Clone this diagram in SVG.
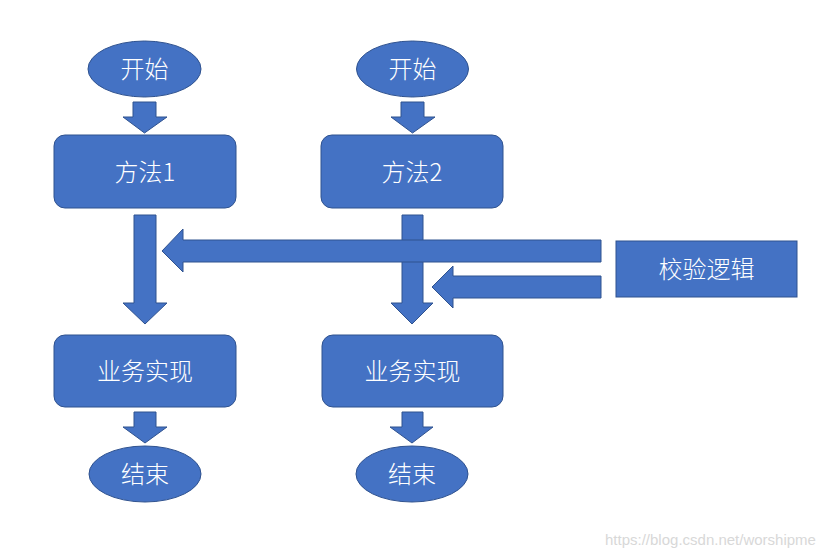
<svg xmlns="http://www.w3.org/2000/svg" width="837" height="557" viewBox="0 0 837 557">
<style>
.s{fill:#4472C4;stroke:#2F528F;stroke-width:1}
.t{fill:#fff;font-family:"Noto Sans CJK SC","Liberation Sans",sans-serif;font-size:24px;font-weight:300;text-anchor:middle;dominant-baseline:central}
.w{fill:#d8d8d8;font-family:"Liberation Sans",Arial,sans-serif;font-size:15px}
</style>
<rect width="837" height="557" fill="#fff"/>
<g id="connectors">
<path class="s" d="M133,102 H156 V117 H167 L144.5,133 L123,117 H133 Z"/>
<path class="s" d="M401,102 H424 V117 H435 L412.5,133 L391,117 H401 Z"/>
<path class="s" d="M134,215 H156 V303 H167 L145,324 L123,303 H134 Z"/>
<path class="s" d="M402,215 H423 V303 H433 L412,324 L391,303 H402 Z"/>
<path class="s" d="M601,240 V262 H183 V272 L162,251 L183,229 V240 Z"/>
<path class="s" d="M601,276 V298 H453 V308 L432,287 L453,266 V276 Z"/>
<path class="s" d="M134,412 H156 V427 H167 L145,443 L123,427 H134 Z"/>
<path class="s" d="M402,412 H423 V427 H433 L412,443 L390,427 H402 Z"/>
</g>
<g id="start1"><ellipse class="s" cx="144.5" cy="69" rx="56.5" ry="28"/><text class="t" x="144.5" y="67">开始</text></g>
<g id="start2"><ellipse class="s" cx="412.5" cy="69" rx="56" ry="28"/><text class="t" x="412.5" y="67">开始</text></g>
<g id="method1"><rect class="s" x="54" y="135" width="182" height="73" rx="11"/><text class="t" x="145" y="170">方法1</text></g>
<g id="method2"><rect class="s" x="321" y="135" width="182" height="73" rx="11"/><text class="t" x="412" y="170">方法2</text></g>
<g id="validate"><rect class="s" x="616" y="241" width="181" height="56"/><text class="t" x="706.5" y="267">校验逻辑</text></g>
<g id="biz1"><rect class="s" x="54" y="335" width="182" height="72" rx="11"/><text class="t" x="145" y="369">业务实现</text></g>
<g id="biz2"><rect class="s" x="322" y="335" width="181" height="72" rx="11"/><text class="t" x="412.5" y="369">业务实现</text></g>
<g id="end1"><ellipse class="s" cx="145" cy="474" rx="56" ry="28"/><text class="t" x="145" y="472">结束</text></g>
<g id="end2"><ellipse class="s" cx="412" cy="474" rx="56" ry="28"/><text class="t" x="412" y="472">结束</text></g>
<text class="w" x="605" y="545">https://blog.csdn.net/worshipme</text>
</svg>
